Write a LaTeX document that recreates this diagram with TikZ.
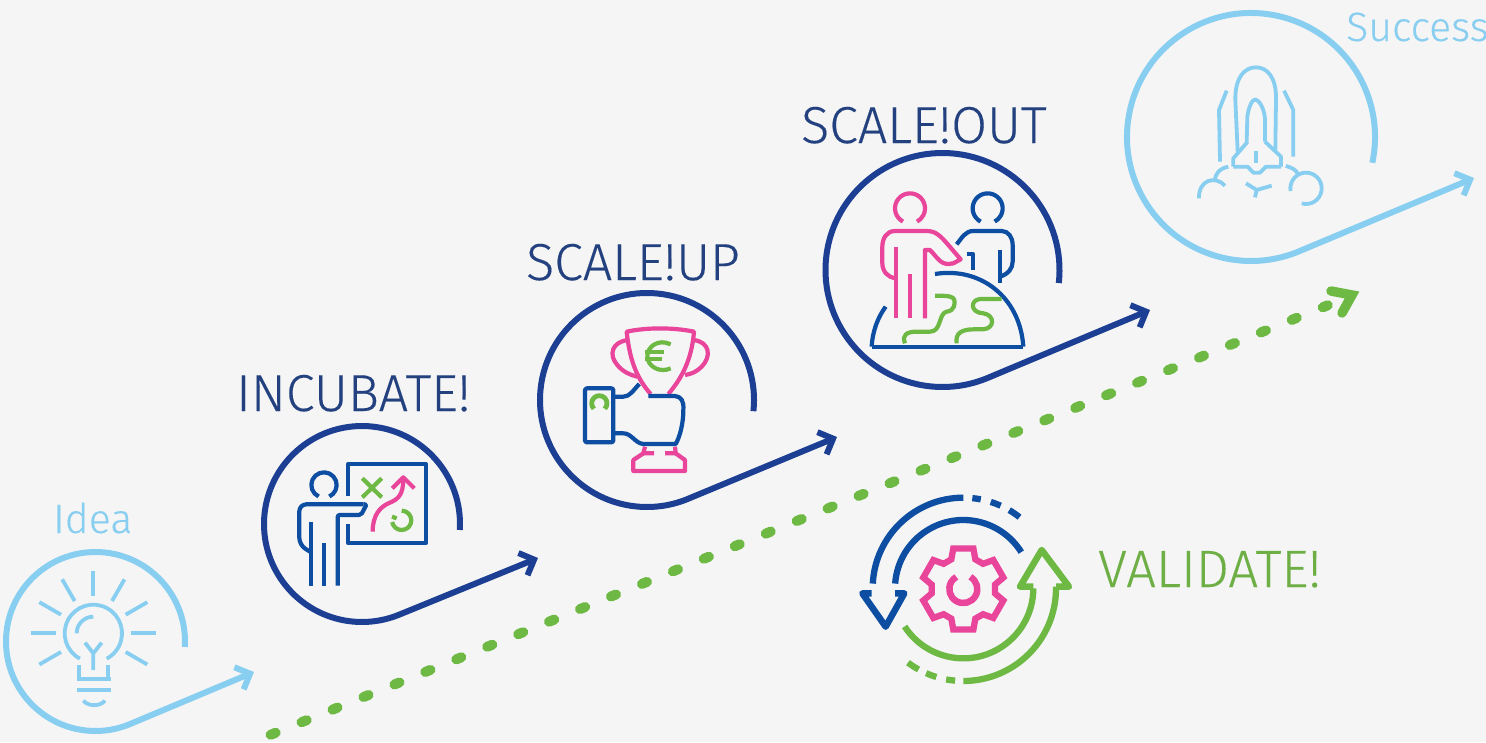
\documentclass[tikz,border=0pt]{standalone}
\usepackage{fontspec}
\usetikzlibrary{arrows.meta}
\newfontfamily\labelfont[UprightFont={* Light},FakeBold=0.25]{Fira Sans}
\definecolor{bgc}{HTML}{F5F5F5}
\definecolor{navy}{HTML}{1C3F94}
\definecolor{iconblue}{HTML}{0D4EA2}
\definecolor{sky}{HTML}{88CEF0}
\definecolor{pinkc}{HTML}{E8459B}
\definecolor{greenc}{HTML}{6DB944}
\definecolor{textnavy}{HTML}{23407F}
\definecolor{textgreen}{HTML}{6DAF45}
\tikzset{
  flow/.style={line width=6pt,-{Straight Barb[length=12pt,width=24pt,line width=6pt]},line join=round},
  ic/.style={line width=4.2pt,line join=round},
  pk/.style={ic,draw=pinkc},
  gr/.style={ic,draw=greenc},
  bl/.style={ic,draw=iconblue},
  sk/.style={ic,line width=3.8pt,draw=sky},
  zoomed/.style={shift={#1},scale=.33333},
  lab/.style={anchor=base west,inner sep=0pt,font=\labelfont\fontsize{#1}{#1}\selectfont}
}
% colour, cx, cy, r, start angle, tip x, tip y, name
\newcommand\flowline[8]{%
  \coordinate (#8) at (#6,#7);
  \draw[flow,draw=#1] (#2,#3) ++(#5:#4) arc[start angle=#5,end angle=-293,radius=#4] -- (#8);}
\begin{document}
\begin{tikzpicture}[x=1pt,y=1pt,yscale=-1]
\useasboundingbox (0,0) rectangle (1486,742);
\fill[bgc] (0,0) rectangle (1486,742);

% dotted green track
\coordinate (dotA) at (270.6,734.8);
\coordinate (dotB) at (1328.7,304.9);
\draw[greenc,line width=10pt,line cap=round,dash pattern=on 5.5pt off 27.9pt] (dotA) -- (dotB);
\coordinate (dotTip) at (1352,295);
\draw[greenc,line width=9.5pt,line join=miter,line cap=round] (1331,291) -- (dotTip) -- (1342,313);

% flow arcs
\flowline{sky}{95.5}{641.5}{89.5}{3.5}{254}{672}{tipa}
\flowline{navy}{362}{524}{98}{3.5}{538}{558}{tipb}
\flowline{navy}{647}{400}{107}{6}{837}{437}{tipc}
\flowline{navy}{942.5}{270}{117}{6.4}{1150}{310}{tipd}
\flowline{sky}{1251}{137}{124}{12}{1474}{178}{tipe}

% labels
\node[lab=41,text=sky] (idea) at (53,533) {Idea};
\node[lab=52,text=textnavy] (incubate) at (236,411) {INCUBATE!};
\node[lab=52,text=textnavy] (scaleup) at (526,280) {SCALE!UP};
\node[lab=52,text=textnavy] (scaleout) at (801,143) {SCALE!OUT};
\node[lab=41,text=sky] (success) at (1346,41) {Success};
\node[lab=52.5,text=textgreen] (validate) at (1098,587) {VALIDATE!};

% bulb
\begin{scope}[zoomed={(0,490)}]
  \foreach \a in {-90,-60,-120,-30,-150,0,180,30,150}
    \draw[sk] (280,430) ++(\a:112) -- ++(\a:75);
  \draw[sk] (280,430) ++(118:86) arc[start angle=118,end angle=422,radius=86];
  \draw[sk] (230,430) arc[start angle=180,end angle=270,radius=50];
  \draw[sk] (280,540) -- (280,490) -- (255,458) (280,490) -- (305,458);
  \draw[sk] (238,525) -- (238,568) (325,525) -- (325,568);
  \draw[sk] (230,568) -- (332,568) (230,600) -- (332,600);
  \draw[sk] (250,632) .. controls (265,650) and (300,650) .. (315,632);
\end{scope}

% presenter and board
\begin{scope}[zoomed={(255,420)}]
  \draw[bl] (207,195) ++(115:38) arc[start angle=115,end angle=425,radius=38];
  \draw[bl,rounded corners=7pt] (165,395) -- (133,375) -- (133,253) -- (325,253);
  \draw[bl,rounded corners=2pt] (325,253) -- (335,253) -- (318,285) -- (248,285) -- (248,497);
  \draw[bl] (167,305) -- (167,497) (208,368) -- (208,497);
  \draw[bl] (280,228) -- (280,132) -- (512,132) -- (512,370) -- (280,370) -- (280,312);
  \draw[gr] (322,175) -- (380,232) (380,175) -- (322,232);
  \draw[pk] (353,335) .. controls (353,285) and (375,262) .. (400,250) .. controls (430,238) and (445,225) .. (445,175);
  \draw[pk] (412,205) -- (445,172) -- (478,205);
  \draw[gr] (440,272) arc[start angle=-90,end angle=170,radius=29];
  \draw[gr] (411,290) -- (425,295);
\end{scope}

% trophy and hand
\begin{scope}[zoomed={(530,290)}]
  \draw[pk] (362,312) .. controls (325,270) and (300,220) .. (290,125) .. controls (350,112) and (430,112) .. (492,125) .. controls (485,210) and (455,265) .. (415,312);
  \draw[pk] (295,150) .. controls (245,155) and (235,195) .. (262,225) .. controls (278,245) and (300,255) .. (322,260);
  \draw[pk] (490,150) .. controls (540,155) and (545,200) .. (515,230) .. controls (500,245) and (485,252) .. (465,255);
  \draw[gr] (422,163) .. controls (385,145) and (352,170) .. (352,198) .. controls (352,230) and (390,250) .. (422,235);
  \draw[gr] (345,185) -- (402,185) (345,208) -- (395,208);
  \draw[pk] (345,470) -- (340,490) -- (372,490) (435,470) -- (437,490) -- (405,490);
  \draw[pk] (340,490) -- (310,510) -- (310,543) -- (465,543) -- (465,510) -- (437,490);
  \draw[bl,rounded corners=2pt] (165,295) rectangle (250,457);
  \draw[bl] (250,320) -- (280,320) .. controls (300,320) and (310,300) .. (328,282);
  \draw[bl] (355,318) -- (435,318) .. controls (455,320) and (462,335) .. (460,360) .. controls (460,400) and (450,440) .. (437,462) -- (340,462) .. controls (315,460) and (305,430) .. (280,430) -- (250,430);
  \draw[gr,line width=4.8pt] (208,340) ++(135:23) arc[start angle=135,end angle=405,radius=23];
\end{scope}

% two figures and globe
\begin{scope}[zoomed={(820,150)}]
  \draw[pk] (270,175) ++(118:45) arc[start angle=118,end angle=422,radius=45];
  \draw[pk] (228,505) -- (228,292) (270,372) -- (270,505);
  \draw[pk] (315,505) -- (315,300) -- (330,300) .. controls (350,320) and (360,342) .. (385,342) -- (400,340) -- (422,328) -- (385,285) .. controls (360,255) and (345,243) .. (320,243) -- (225,243) .. controls (200,243) and (187,265) .. (187,290) -- (187,340) .. controls (187,365) and (205,382) .. (225,385);
  \draw[bl] (503,175) ++(118:45) arc[start angle=118,end angle=422,radius=45];
  \draw[bl] (410,283) .. controls (425,265) and (435,243) .. (460,243) -- (545,243) .. controls (565,243) and (578,262) .. (578,285) -- (578,335) .. controls (578,355) and (565,372) .. (540,380);
  \draw[bl] (540,300) -- (540,398);
  \draw[bl] (440,312) -- (458,312) -- (458,360);
  \draw[bl] (155,590) -- (610,590);
  \draw[bl] (345,372) .. controls (480,350) and (600,440) .. (610,590);
  \draw[bl] (155,590) .. controls (158,540) and (175,500) .. (197,470);
  \draw[gr] (255,580) .. controls (245,555) and (260,545) .. (290,545) -- (330,545) .. controls (365,545) and (355,490) .. (380,485) .. controls (405,482) and (405,460) .. (403,450) .. controls (400,440) and (390,437) .. (345,437);
  \draw[gr] (410,580) .. controls (405,550) and (425,538) .. (460,538) -- (490,538) .. controls (525,535) and (525,495) .. (490,490) .. controls (450,488) and (450,450) .. (480,447) -- (545,447);
\end{scope}

% rocket
\begin{scope}[zoomed={(1120,20)}]
  \draw[sk] (353,395) -- (346,240) .. controls (345,170) and (375,142) .. (408,142) .. controls (440,142) and (470,170) .. (468,240) -- (466,390);
  \draw[sk] (380,365) -- (382,290) .. controls (385,265) and (395,240) .. (405,238) .. controls (418,240) and (432,265) .. (435,295) -- (435,365);
  \draw[sk] (340,440) -- (340,415) -- (383,365);
  \draw[sk] (483,440) -- (483,410) -- (435,365);
  \draw[sk] (340,440) -- (383,440) -- (400,458) -- (420,458) -- (438,440) -- (483,440);
  \draw[sk] (408,392) -- (408,430);
  \draw[sk] (320,212) -- (297,270) -- (300,425);
  \draw[sk] (492,212) -- (520,270) -- (520,410);
  \draw[sk] (325,440) .. controls (300,445) and (285,460) .. (285,482);
  \draw[sk] (315,497) .. controls (285,465) and (235,480) .. (237,535);
  \draw[sk] (497,438) .. controls (515,442) and (530,450) .. (535,465);
  \draw[sk] (558,505) ++(170:47) arc[start angle=170,end angle=466,radius=47];
  \draw[sk] (378,490) -- (410,510) -- (455,497) (410,510) -- (405,532);
\end{scope}

% validate cycle
\begin{scope}[zoomed={(850,485)}]
  \tikzset{cyc/.style={line width=6.3pt}}
  % blue half
  \draw[iconblue,cyc] (340,310) ++(-90:272) arc[start angle=-90,end angle=-177,radius=272];
  \draw[iconblue,cyc] (340,310) ++(-32:205) arc[start angle=-32,end angle=-176,radius=205];
  \foreach \a/\b in {-84.3/-78.9,-72.4/-65.7,-59.6/-51.7}
    \draw[iconblue,cyc] (340,310) ++(\a:272) arc[start angle=\a,end angle=\b,radius=272];
  \draw[iconblue,line width=6.5pt,line join=round] (65,325) -- (37,325) -- (107,425) -- (163,325) -- (135,325);
  % green half
  \draw[greenc,cyc] (340,310) ++(90:278) arc[start angle=90,end angle=-1,radius=278];
  \draw[greenc,cyc] (340,310) ++(147:210) arc[start angle=147,end angle=0,radius=210];
  \foreach \a/\b in {126.7/118.9,113.7/106.9,100.7/95.1}
    \draw[greenc,cyc] (340,310) ++(\a:278) arc[start angle=\a,end angle=\b,radius=278];
  \draw[greenc,line width=6.5pt,line join=round] (550,305) -- (510,305) -- (575,195) -- (657,305) -- (618,305);
  % gear
  \begin{scope}[shift={(340,312)}]
  \draw[pinkc,line width=6.3pt,line join=miter]
    (-112:96) -- (-104:125) -- (-76:125) -- (-68:96)
    -- (-52:96) -- (-44:125) -- (-16:125) -- (-8:96)
    -- (8:96) -- (16:125) -- (44:125) -- (52:96)
    -- (68:96) -- (76:125) -- (104:125) -- (112:96)
    -- (128:96) -- (136:125) -- (164:125) -- (172:96)
    -- (188:96) -- (196:125) -- (224:125) -- (232:96) -- cycle;
  \draw[pinkc,line width=6.5pt] (-60:42) arc[start angle=-60,end angle=240,radius=42];
  \end{scope}
\end{scope}
\end{tikzpicture}
\end{document}
